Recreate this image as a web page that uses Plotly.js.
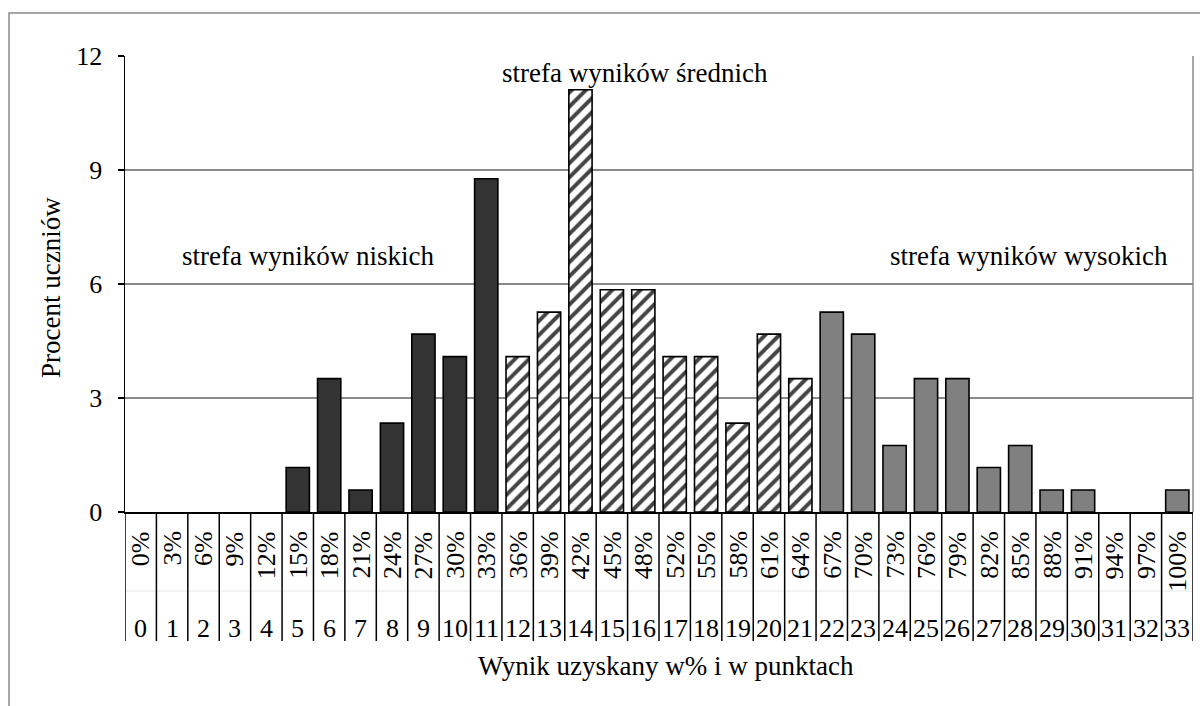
<!DOCTYPE html>
<html>
<head>
<meta charset="utf-8">
<script src="https://cdn.plot.ly/plotly-3.0.1.min.js"></script>
<style>
  html, body { margin: 0; padding: 0; background: #ffffff; }
  #chart { width: 1200px; height: 706px; }
</style>
</head>
<body>
<div id="chart"></div>
<script>
// ---- data ----
const points = [0,1,2,3,4,5,6,7,8,9,10,11,12,13,14,15,16,17,18,19,20,21,22,23,24,25,26,27,28,29,30,31,32,33];
const percentLabels = ['0%','3%','6%','9%','12%','15%','18%','21%','24%','27%','30%','33%','36%','39%','42%','45%','48%','52%','55%','58%','61%','64%','67%','70%','73%','76%','79%','82%','85%','88%','91%','94%','97%','100%'];
const studentsPct = [0,0,0,0,0,1.17,3.51,0.58,2.34,4.68,4.09,8.77,4.09,5.26,11.11,5.85,5.85,4.09,4.09,2.34,4.68,3.51,5.26,4.68,1.75,3.51,3.51,1.17,1.75,0.58,0.58,0,0,0.58];
const lowZoneMax = 11;   // last point of "strefa wyników niskich"
const midZoneMax = 21;   // last point of "strefa wyników średnich"
const zoneTitles = ['strefa wyników niskich', 'strefa wyników średnich', 'strefa wyników wysokich'];
const yTitle = 'Procent uczniów';
const xTitle = 'Wynik uzyskany w% i w punktach';

// ---- styling ----
const FONT = 'Liberation Serif';
const FS = 26;
const FS_T = 27;
const W = 1200, H = 706;
const L = 125, R = 1193, T = 56, B = 512;
const pw = R - L, ph = B - T;
const px = xPix => (xPix - L) / pw;     // pixel -> paper x
const py = yPix => (B - yPix) / ph;     // pixel -> paper y

const colors = points.map(p => p <= lowZoneMax ? '#333333' : (p <= midZoneMax ? '#ffffff' : '#808080'));
const shapesPat = points.map(p => (p > lowZoneMax && p <= midZoneMax) ? '/' : '');
const outlineW = studentsPct.map(v => v === 0 ? 0 : 1.6);

const trace = {
  type: 'bar',
  x: points,
  y: studentsPct,
  marker: {
    color: colors,
    line: { color: '#000000', width: outlineW },
    pattern: { shape: shapesPat, fgcolor: '#000000', fgopacity: 1, fillmode: 'overlay', size: 10, solidity: 0.4 }
  },
  hoverinfo: 'x+y'
};

const annotations = [];
points.forEach((p, i) => {
  annotations.push({
    x: p, xref: 'x', y: py(529), yref: 'paper',
    text: percentLabels[i], textangle: -90, showarrow: false,
    xanchor: 'center', yanchor: 'top',
    font: { family: FONT, size: FS, color: '#000' }
  });
  annotations.push({
    x: p, xref: 'x', y: py(628), yref: 'paper',
    text: String(p), showarrow: false,
    xanchor: 'center', yanchor: 'middle',
    font: { family: FONT, size: FS, color: '#000' }
  });
});
annotations.push({ x: px(307.5), xref: 'paper', y: py(256), yref: 'paper', text: zoneTitles[0], showarrow: false, xanchor: 'center', yanchor: 'middle', font: { family: FONT, size: FS_T, color: '#000' } });
annotations.push({ x: px(635), xref: 'paper', y: py(73), yref: 'paper', text: zoneTitles[1], showarrow: false, xanchor: 'center', yanchor: 'middle', font: { family: FONT, size: FS_T, color: '#000' } });
annotations.push({ x: px(1028.5), xref: 'paper', y: py(256), yref: 'paper', text: zoneTitles[2], showarrow: false, xanchor: 'center', yanchor: 'middle', font: { family: FONT, size: FS_T, color: '#000' } });
annotations.push({ x: px(51), xref: 'paper', y: py(288), yref: 'paper', text: yTitle, textangle: -90, showarrow: false, xanchor: 'center', yanchor: 'middle', font: { family: FONT, size: FS_T, color: '#000' } });
annotations.push({ x: px(666), xref: 'paper', y: py(666), yref: 'paper', text: xTitle, showarrow: false, xanchor: 'center', yanchor: 'middle', font: { family: FONT, size: FS_T, color: '#000' } });

const shapes = [];
for (let k = 0; k <= points.length; k++) {
  shapes.push({ type: 'line', xref: 'x', yref: 'paper', x0: k - 0.5, x1: k - 0.5, y0: 0, y1: py(641), line: { color: '#000', width: 1.5 } });
}
shapes.push({ type: 'line', xref: 'paper', yref: 'paper', x0: 0, x1: 1, y0: py(591), y1: py(591), line: { color: '#e6e6e6', width: 1 }, layer: 'below' });
shapes.push({ type: 'line', xref: 'paper', yref: 'paper', x0: 1, x1: 1, y0: 0, y1: 1, line: { color: '#8a8a8a', width: 1.5 } });
shapes.push({ type: 'rect', xref: 'paper', yref: 'paper', x0: px(9), x1: px(1210), y0: py(13), y1: py(720), line: { color: '#8a8a8a', width: 1.5 }, fillcolor: 'rgba(0,0,0,0)', layer: 'below' });

const layout = {
  width: W, height: H,
  margin: { l: L, r: W - R, t: T, b: H - B, pad: 0 },
  paper_bgcolor: '#ffffff', plot_bgcolor: '#ffffff',
  showlegend: false,
  bargap: 0.26,
  font: { family: FONT, size: FS, color: '#000' },
  xaxis: {
    range: [-0.5, 33.5], showticklabels: false, ticks: '', showgrid: false, zeroline: false,
    showline: true, linecolor: '#000', linewidth: 1.5, fixedrange: true
  },
  yaxis: {
    range: [0, 12], tickvals: [0, 3, 6, 9, 12], ticks: 'outside', ticklen: 6, tickcolor: '#000', tickwidth: 1.5,
    showline: true, linecolor: '#000', linewidth: 1.5, showgrid: true, gridcolor: '#8a8a8a', gridwidth: 1.2,
    zeroline: false, tickfont: { family: FONT, size: FS, color: '#000' }, ticklabelstandoff: 10, fixedrange: true
  },
  annotations: annotations,
  shapes: shapes
};

Plotly.newPlot('chart', [trace], layout, { displayModeBar: false, staticPlot: true });
</script>
</body>
</html>
